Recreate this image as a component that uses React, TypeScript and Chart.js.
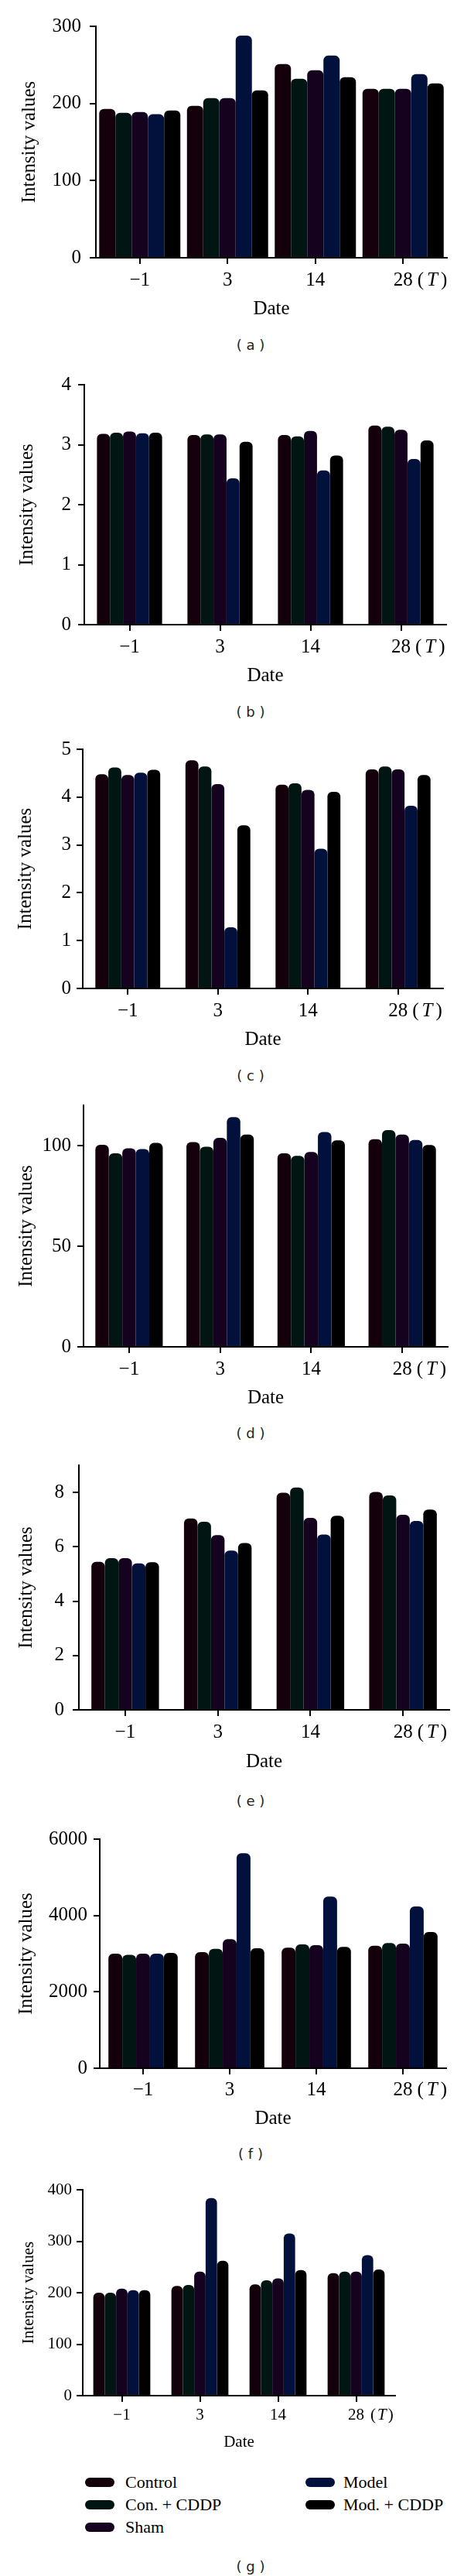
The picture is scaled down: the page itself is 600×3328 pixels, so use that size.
import React, { useEffect, useRef } from 'react';
import { Chart, registerables } from 'chart.js';

Chart.register(...registerables);

const SERIF = '"Liberation Serif", "Times New Roman", serif';

const categories = ['−1', '3', '14', '28'];
const seriesNames = ['Control', 'Con. + CDDP', 'Sham', 'Model', 'Mod. + CDDP'];
const seriesColors = ['#14000a', '#011513', '#15021f', '#01113b', '#000000'];

// (a)
const aControl = [193, 197, 251, 219];
const aConCDDP = [188, 207, 232, 219];
const aSham = [189, 207, 243, 219];
const aModel = [186, 288, 262, 238];
const aModCDDP = [191, 217, 234, 226];
const aTicks = [0, 100, 200, 300];

// (b)
const bControl = [3.18, 3.16, 3.16, 3.32];
const bConCDDP = [3.2, 3.17, 3.14, 3.3];
const bSham = [3.22, 3.17, 3.23, 3.25];
const bModel = [3.19, 2.44, 2.57, 2.76];
const bModCDDP = [3.2, 3.05, 2.82, 3.07];
const bTicks = [0, 1, 2, 3, 4];

// (c)
const cControl = [4.48, 4.77, 4.26, 4.58];
const cConCDDP = [4.62, 4.64, 4.29, 4.64];
const cSham = [4.46, 4.27, 4.15, 4.58];
const cModel = [4.51, 1.28, 2.92, 3.82];
const cModCDDP = [4.57, 3.41, 4.11, 4.46];
const cTicks = [0, 1, 2, 3, 4, 5];

// (d)
const dControl = [100.4, 101.7, 96.2, 103.2];
const dConCDDP = [96.2, 99.4, 94.9, 107.7];
const dSham = [98.7, 103.8, 96.8, 105.5];
const dModel = [98.3, 114.1, 106.7, 102.8];
const dModCDDP = [101.3, 105.5, 102.6, 100.3];
const dTicks = [0, 50, 100];

// (e)
const eControl = [5.45, 7.04, 7.99, 8.02];
const eConCDDP = [5.58, 6.92, 8.18, 7.89];
const eSham = [5.58, 6.43, 7.06, 7.18];
const eModel = [5.39, 5.86, 6.45, 6.95];
const eModCDDP = [5.43, 6.14, 7.14, 7.37];
const eTicks = [0, 2, 4, 6, 8];

// (f)
const fControl = [3000, 3041, 3155, 3209];
const fConCDDP = [2970, 3128, 3243, 3277];
const fSham = [3000, 3378, 3223, 3263];
const fModel = [3000, 5629, 4493, 4236];
const fModCDDP = [3020, 3142, 3176, 3567];
const fTicks = [0, 2000, 4000, 6000];

// (g)
const gControl = [200, 213, 216, 238];
const gConCDDP = [200, 215, 224, 241];
const gSham = [208, 241, 228, 241];
const gModel = [205, 384, 315, 273];
const gModCDDP = [205, 262, 244, 245];
const gTicks = [0, 100, 200, 300, 400];

type Panel = {
  caption: string;
  values: number[][];
  ticks: number[];
  max: number;
  axisX: number;
  right: number;
  top: number;
  bottom: number;
  catPct: number;
  font: number;
  titleX: number;
  yPad: number;
  labelGap: number;
  dateGap: number;
  captionY: number;
  tGap: number;
  tSpace: number;
};

const panels: Panel[] = [
  { caption: '( a )', values: [aControl, aConCDDP, aSham, aModel, aModCDDP], ticks: aTicks, max: 300,
    axisX: 124, right: 578, top: 33, bottom: 333, catPct: 0.925, font: 25, titleX: 38, yPad: 11,
    labelGap: 29, dateGap: 66, captionY: 446, tGap: 6, tSpace: 4 },
  { caption: '( b )', values: [bControl, bConCDDP, bSham, bModel, bModCDDP], ticks: bTicks, max: 4,
    axisX: 109, right: 577, top: 497, bottom: 807, catPct: 0.72, font: 25, titleX: 35, yPad: 9,
    labelGap: 29, dateGap: 66, captionY: 920, tGap: 6, tSpace: 4 },
  { caption: '( c )', values: [cControl, cConCDDP, cSham, cModel, cModCDDP], ticks: cTicks, max: 5,
    axisX: 107, right: 573, top: 968, bottom: 1277, catPct: 0.72, font: 25, titleX: 33, yPad: 7,
    labelGap: 29, dateGap: 66, captionY: 1390, tGap: 6, tSpace: 4 },
  { caption: '( d )', values: [dControl, dConCDDP, dSham, dModel, dModCDDP], ticks: dTicks, max: 120,
    axisX: 108, right: 579, top: 1428, bottom: 1740, catPct: 0.74, font: 25, titleX: 34, yPad: 8,
    labelGap: 29, dateGap: 66, captionY: 1852, tGap: 6, tSpace: 4 },
  { caption: '( e )', values: [eControl, eConCDDP, eSham, eModel, eModCDDP], ticks: eTicks, max: 9,
    axisX: 102, right: 581, top: 1892, bottom: 2209, catPct: 0.73, font: 25, titleX: 34, yPad: 11,
    labelGap: 29, dateGap: 67, captionY: 2327, tGap: 6, tSpace: 4 },
  { caption: '( f )', values: [fControl, fConCDDP, fSham, fModel, fModCDDP], ticks: fTicks, max: 6000,
    axisX: 129, right: 577, top: 2376, bottom: 2672, catPct: 0.8, font: 25, titleX: 34, yPad: 8,
    labelGap: 28, dateGap: 65, captionY: 2783, tGap: 6, tSpace: 4 },
  { caption: '( g )', values: [gControl, gConCDDP, gSham, gModel, gModCDDP], ticks: gTicks, max: 400,
    axisX: 107, right: 511, top: 2829, bottom: 3095, catPct: 0.73, font: 21, titleX: 37, yPad: 6,
    labelGap: 25, dateGap: 60, captionY: 3316, tGap: 8, tSpace: 2 },
];

const PAD_TOP = 25;

const tPlugin = {
  id: 'tMark',
  afterDraw(chart: any, _args: any, opts: any) {
    const xs = chart.scales.x;
    const ctx = chart.ctx;
    const size = opts.size;
    const px = xs.getPixelForTick(categories.length - 1);
    const y = xs.top + opts.labelGap;
    ctx.save();
    ctx.fillStyle = '#000';
    ctx.textBaseline = 'middle';
    ctx.textAlign = 'left';
    ctx.font = `${size}px ${SERIF}`;
    const w = ctx.measureText(categories[categories.length - 1]).width;
    let x = px + w / 2 + opts.gap;
    ctx.fillText('(', x, y);
    x += ctx.measureText('(').width + opts.space;
    ctx.font = `italic ${size}px ${SERIF}`;
    ctx.fillText('T', x, y);
    x += ctx.measureText('T').width + opts.space;
    ctx.font = `${size}px ${SERIF}`;
    ctx.fillText(')', x, y);
    ctx.restore();
  },
};

function PanelChart({ p }: { p: Panel }) {
  const ref = useRef<HTMLCanvasElement>(null);
  const lh = p.font * 1.2;
  const xH = p.dateGap + lh / 2;
  const areaH = p.bottom - p.top;
  const H = Math.ceil(PAD_TOP + areaH + xH + 4);
  const padBottom = H - PAD_TOP - areaH - xH;

  useEffect(() => {
    if (!ref.current) return;
    const font = { family: SERIF, size: p.font, lineHeight: 1.2 };
    const chart = new Chart(ref.current, {
      type: 'bar',
      data: {
        labels: categories,
        datasets: p.values.map((v, i) => ({
          label: seriesNames[i],
          data: v,
          backgroundColor: seriesColors[i],
          borderWidth: 0,
          borderRadius: 6,
          barPercentage: 1,
          categoryPercentage: p.catPct,
        })),
      },
      options: {
        animation: false,
        responsive: false,
        devicePixelRatio: 1,
        layout: { padding: { top: PAD_TOP, left: 0, right: 600 - p.right, bottom: padBottom } },
        plugins: {
          legend: { display: false },
          tooltip: { enabled: false },
          tMark: { size: p.font, labelGap: p.labelGap, gap: p.tGap, space: p.tSpace },
        } as any,
        scales: {
          x: {
            grid: { display: true, drawOnChartArea: false, drawTicks: true, tickLength: 8, offset: false, color: '#000', lineWidth: 2 },
            border: { display: true, color: '#000', width: 2, z: 1 },
            ticks: { color: '#000', font, padding: p.labelGap - 8 - lh / 2, maxRotation: 0, autoSkip: false },
            title: { display: true, text: 'Date', color: '#000', font, padding: { top: 0, bottom: 0 } },
            afterFit: (s: any) => { s.height = xH; },
          },
          y: {
            min: 0,
            max: p.max,
            grid: { display: true, drawOnChartArea: false, drawTicks: true, tickLength: 8, color: '#000', lineWidth: 2 },
            border: { display: true, color: '#000', width: 2, z: 1 },
            ticks: { color: '#000', font, padding: p.yPad, callback: (v: any) => String(v) },
            title: { display: true, text: 'Intensity values', color: '#000', font, padding: { top: p.titleX - lh / 2, bottom: 0 } },
            afterFit: (s: any) => { s.width = p.axisX; },
            afterBuildTicks: (s: any) => { s.ticks = p.ticks.map((v) => ({ value: v })); },
          },
        } as any,
      },
      plugins: [tPlugin as any],
    });
    return () => chart.destroy();
  }, [p]);

  return (
    <>
      <canvas
        ref={ref}
        width={600}
        height={H}
        style={{ position: 'absolute', left: 0, top: p.top - PAD_TOP, width: 600, height: H }}
      />
      <div
        style={{
          position: 'absolute', left: 224, width: 200, top: p.captionY - 11, height: 22, lineHeight: '22px',
          textAlign: 'center', fontFamily: '"DejaVu Sans", sans-serif', fontSize: 18, color: '#231f20', whiteSpace: 'pre',
        }}
      >
        {p.caption}
      </div>
    </>
  );
}

const legendRows = [3207, 3236, 3265];

function Legend() {
  const items = [
    { col: 0, row: 0, i: 0 },
    { col: 0, row: 1, i: 1 },
    { col: 0, row: 2, i: 2 },
    { col: 1, row: 0, i: 3 },
    { col: 1, row: 1, i: 4 },
  ];
  const swX = [110, 395];
  const txX = [162, 444];
  return (
    <>
      {items.map((it) => {
        const y = legendRows[it.row];
        return (
          <React.Fragment key={it.i}>
            <div style={{ position: 'absolute', left: swX[it.col], top: y - 6, width: 38, height: 12, borderRadius: 6, background: seriesColors[it.i] }} />
            <div style={{ position: 'absolute', left: txX[it.col], top: y - 14, height: 28, lineHeight: '28px', fontFamily: SERIF, fontSize: 22, color: '#000', whiteSpace: 'pre' }}>
              {seriesNames[it.i]}
            </div>
          </React.Fragment>
        );
      })}
    </>
  );
}

export default function App() {
  return (
    <div style={{ position: 'absolute', left: 0, top: 0, width: 600, height: 3328, background: '#fff', overflow: 'hidden' }}>
      {panels.map((p) => (
        <PanelChart key={p.caption} p={p} />
      ))}
      <Legend />
    </div>
  );
}
